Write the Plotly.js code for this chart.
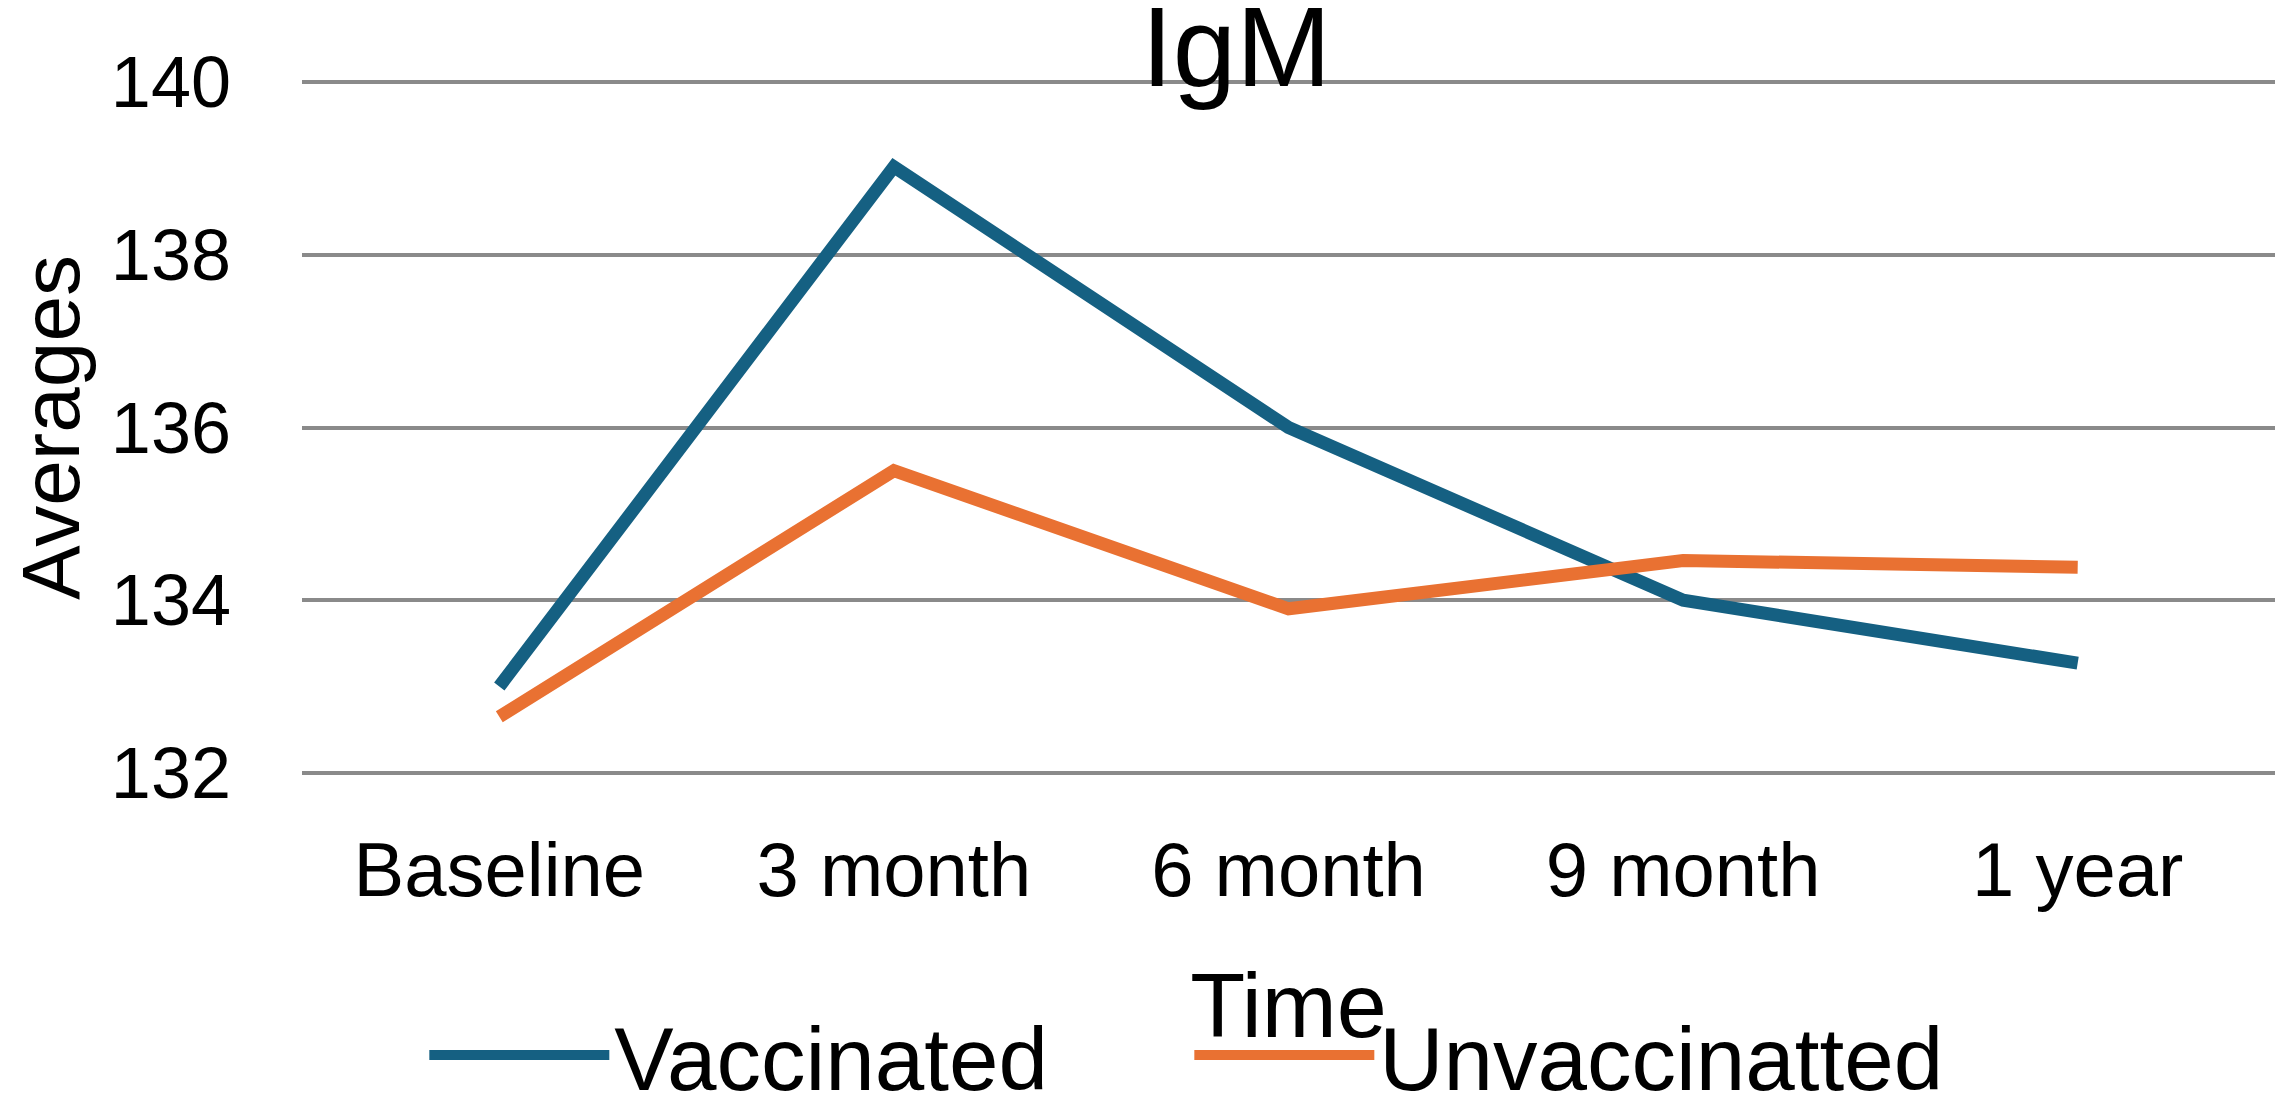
<!DOCTYPE html>
<html lang="en">
<head>
    <meta charset="UTF-8">
    <title>IgM</title>
    <script src="https://cdn.plot.ly/plotly-3.0.1.min.js"></script>
    <style>
        html, body { margin: 0; padding: 0; background: #fff; }
        #chart { width: 2285px; height: 1097px; }
    </style>
</head>
<body>
<div id="chart"></div>
<script>
    // Data
    var timePoints = ['Baseline', '3 month', '6 month', '9 month', '1 year'];
    var vaccinated = [133.0, 139.02, 136.0, 134.0, 133.27];
    var unvaccinated = [132.65, 135.5, 133.9, 134.46, 134.38];
    var yTicks = [132, 134, 136, 138, 140];

    var fontFamily = '"Liberation Sans", Arial, sans-serif';

    var traces = [
        {
            type: 'scatter', mode: 'lines', name: 'Vaccinated',
            x: timePoints, y: vaccinated,
            line: { color: '#156082', width: 13 }
        },
        {
            type: 'scatter', mode: 'lines', name: 'Unvaccinatted',
            x: timePoints, y: unvaccinated,
            line: { color: '#E97132', width: 13 }
        }
    ];

    var layout = {
        width: 2285,
        height: 1097,
        // small padding on the y range so the 132 / 140 gridlines get drawn
        margin: { l: 302, r: 10, t: 80, b: 322, autoexpand: false },
        paper_bgcolor: '#fff',
        plot_bgcolor: '#fff',
        font: { family: fontFamily, color: '#000' },
        title: {
            text: 'IgM',
            font: { size: 114, color: '#000' },
            xref: 'container', x: 0.541, xanchor: 'center',
            yref: 'container', y: 0.958, yanchor: 'middle'
        },
        xaxis: {
            type: 'category',
            range: [-0.5, 4.5],
            automargin: false,
            showgrid: false, zeroline: false, showline: false,
            ticks: '',
            tickfont: { size: 76 },
            ticklabelstandoff: 44,
            title: { text: 'Time', font: { size: 90 }, standoff: 62 }
        },
        yaxis: {
            range: [131.975, 140.025],
            tickvals: yTicks,
            automargin: false,
            showgrid: true, gridcolor: '#8a8a8a', gridwidth: 4,
            zeroline: false, showline: false,
            ticks: '',
            tickfont: { size: 72 },
            ticklabelstandoff: 70,
            title: { text: 'Averages', font: { size: 82 }, standoff: 4 }
        },
        showlegend: true,
        legend: {
            orientation: 'h',
            x: 0.062, xanchor: 'left',
            y: -0.403, yanchor: 'middle',
            font: { size: 89 },
            itemwidth: 180,
            entrywidth: 570,
            bgcolor: 'rgba(0,0,0,0)'
        }
    };

    Plotly.newPlot('chart', traces, layout, { displayModeBar: false, staticPlot: true });
</script>
</body>
</html>
